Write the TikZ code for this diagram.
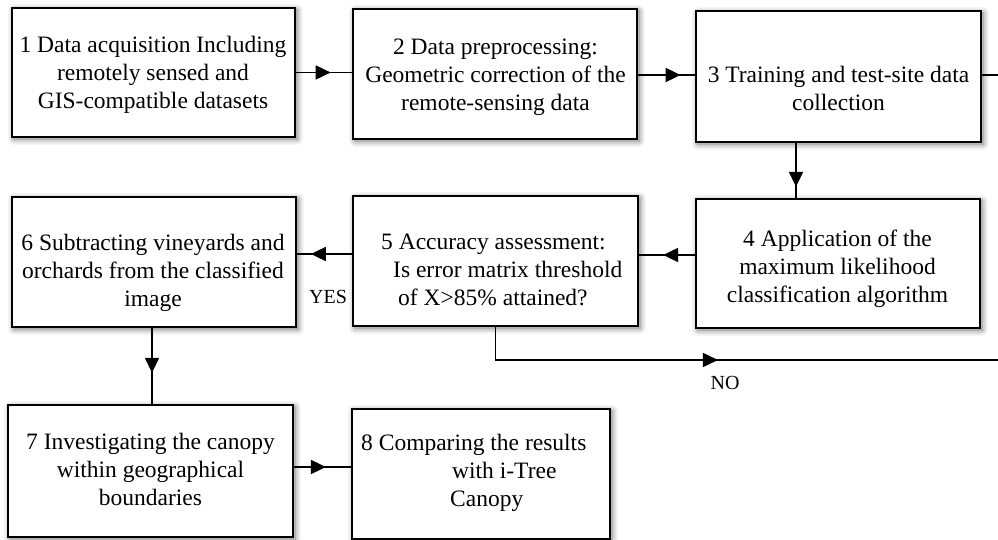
\documentclass[tikz,border=0pt]{standalone}
\usepackage{fontspec}
\setmainfont{Liberation Serif}
\usetikzlibrary{arrows.meta,shadows.blur,decorations.markings,calc}

\tikzset{
  stepbox/.style={draw=black, line width=2.5pt, fill=white, inner sep=0pt,
    blur shadow={shadow xshift=2pt, shadow yshift=-2pt,
      shadow blur radius=6pt, shadow opacity=60}},
  boxtext/.style={align=center, inner sep=0pt,
    font=\fontsize{23.5}{28}\selectfont},
  flowlabel/.style={inner sep=0pt, font=\fontsize{20}{24}\selectfont},
  flow/.style={line width=1.8pt, postaction={decorate},
    decoration={markings, mark=at position #1 with
      {\arrow{Triangle[length=15pt,width=14pt]}}}},
}

\begin{document}
\begin{tikzpicture}[x=1pt,y=-1pt]
\useasboundingbox (0,0) rectangle (998,540);

% process boxes
\node[stepbox, minimum width=283pt, minimum height=129pt] (b1) at (153.5,72.5) {};
\node[stepbox, minimum width=284pt, minimum height=130pt] (b2) at (495,74) {};
\node[stepbox, minimum width=285pt, minimum height=131pt] (b3) at (838.5,76.5) {};
\node[stepbox, minimum width=284pt, minimum height=129pt] (b4) at (838,263.5) {};
\node[stepbox, minimum width=285pt, minimum height=130pt] (b5) at (495.5,261) {};
\node[stepbox, minimum width=284pt, minimum height=130pt] (b6) at (154,262) {};
\node[stepbox, minimum width=285pt, minimum height=132pt] (b7) at (150.5,471) {};
\node[stepbox, minimum width=258pt, minimum height=130pt] (b8) at (481,474) {};

% box texts
\node[boxtext] (t1) at (153,75) {1 Data acquisition Including\\remotely sensed and\\GIS-compatible datasets};
\node[boxtext] (t2) at (495.5,77) {2 Data preprocessing:\\Geometric correction of the\\remote-sensing data};
\node[boxtext] (t3) at (838.5,88) {3 Training and test-site data\\collection};
\node[boxtext] (t4) at (837.5,269) {4 Application of the\\maximum likelihood\\classification algorithm};
\node[boxtext, align=left, anchor=west] (t5) at (381,270)
  {5 Accuracy assessment:\\\hspace*{12pt}Is error matrix threshold\\\hspace*{17pt}of X>85\% attained?};
\node[boxtext] (t6) at (153,273) {6 Subtracting vineyards and\\orchards from the classified\\image};
\node[boxtext] (t7) at (150.5,469) {7 Investigating the canopy\\within geographical\\boundaries};
\node[boxtext, align=left, anchor=west] (t8) at (361,473)
  {8 Comparing the results\\\hspace*{91pt}with i-Tree\\\hspace*{89pt}Canopy};

% free ends of the open connectors
\coordinate (e3) at (1000,75);
\coordinate (eno) at (1000,360);

% connectors
\draw[flow=0.62] (b1.east) -- (b1.east -| b2.west);
\draw[flow=0.75] ([yshift=-1pt]b2.east) -- ([yshift=-1pt]b2.east -| b3.west);
\draw[line width=1.8pt] ([yshift=1.5pt]b3.east) -- (e3);
\draw[flow=0.8] ([xshift=-42.5pt]b3.south) -- ([xshift=-42.5pt]b3.south |- b4.north);
\draw[flow=0.57] ([yshift=8.5pt]b4.west) -- ([yshift=8.5pt]b4.west -| b5.east);
\draw[flow=0.75] ([yshift=7pt]b5.west) -- ([yshift=7pt]b5.west -| b6.east);
\draw[flow=0.59] ([xshift=-2pt]b6.south) -- ([xshift=-2pt]b6.south |- b7.north);
\draw[flow=0.56] ([yshift=4pt]b7.east) -- ([yshift=4pt]b7.east -| b8.west);
\draw[flow=0.475] (b5.south) |- (eno);

% decision labels
\node[flowlabel] (yes) at (328,297) {YES};
\node[flowlabel] (no) at (725,383) {NO};
\end{tikzpicture}
\end{document}
